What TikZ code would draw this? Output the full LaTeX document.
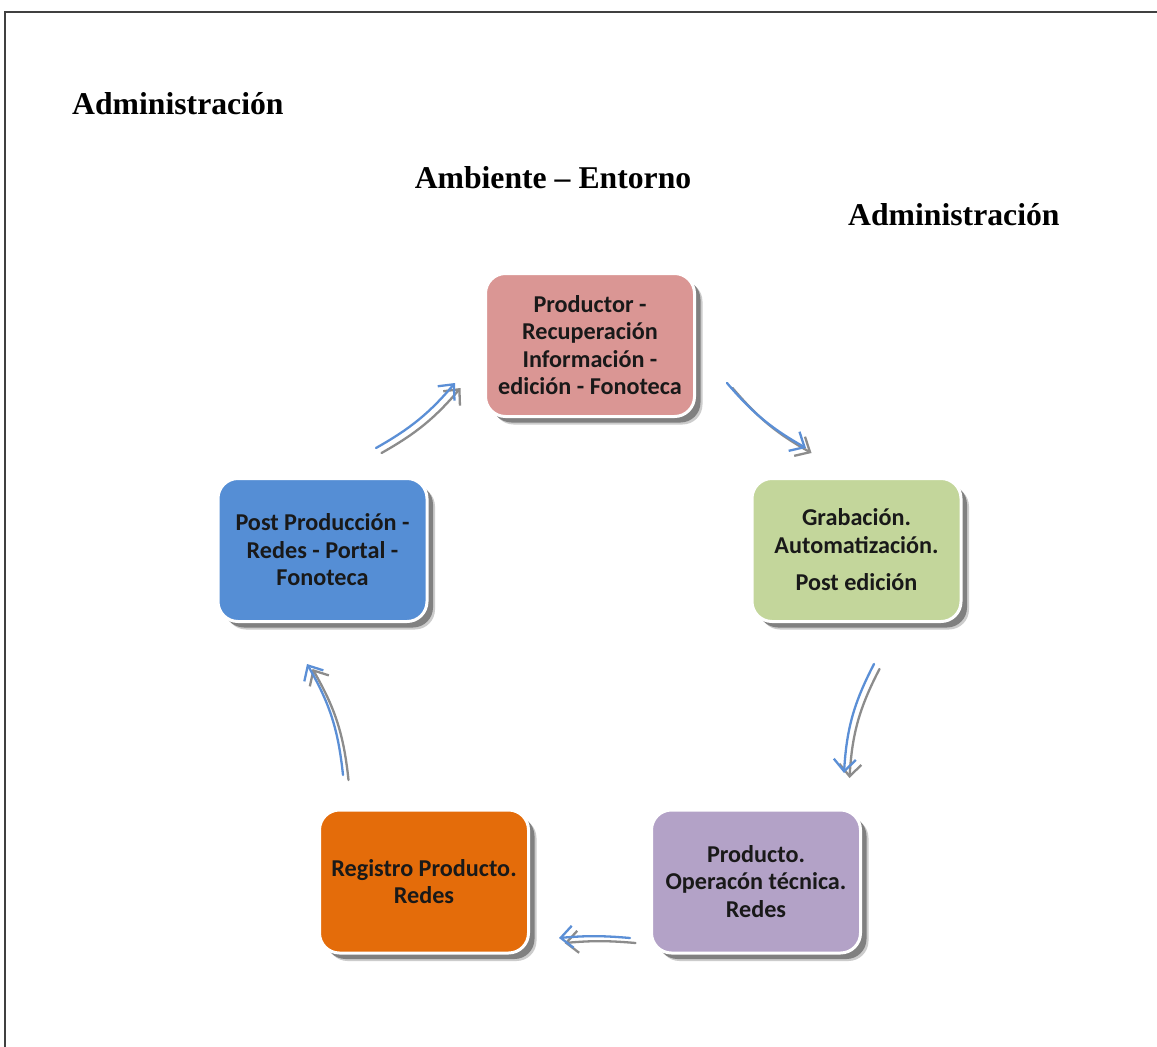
\documentclass[tikz,border=0pt]{standalone}
\usepackage{fontspec}
\setmainfont{Liberation Serif}
\newfontfamily\boxfont{Carlito}
\usetikzlibrary{arrows.meta,shadows}

\definecolor{pinkc}{HTML}{DA9694}
\definecolor{greenc}{HTML}{C3D69B}
\definecolor{purplec}{HTML}{B3A2C7}
\definecolor{orangec}{HTML}{E46C0A}
\definecolor{bluec}{HTML}{558ED5}
\definecolor{arrowblue}{HTML}{5B8FD6}
\definecolor{framegray}{HTML}{404040}

\tikzset{
  heading/.style={font=\bfseries\fontsize{31.7}{36}\selectfont, inner sep=0pt},
  card/.style={rounded corners=20pt, minimum width=209pt, minimum height=143pt,
    draw=white, line width=3pt, align=center, inner sep=2pt,
    font=\boxfont\bfseries\fontsize{24.2}{27.5}\selectfont, text=black!90,
    drop shadow={shadow xshift=8pt, shadow yshift=-8pt, fill=black!20, opacity=1},
    drop shadow={shadow xshift=6pt, shadow yshift=-6pt, fill=black!50, opacity=1}},
  flow/.style={line width=2.3pt, line cap=round,
    -{Straight Barb[length=12pt, width=22pt, line width=2.3pt]}},
  flowblue/.style={flow, draw=arrowblue},
  flowshade/.style={flow, draw=black!45,
    transform canvas={shift={(5.5pt,-5pt)}}}
}

\begin{document}
\begin{tikzpicture}[x=1pt,y=-1pt]
\useasboundingbox (0,0) rectangle (1157,1047);
\fill[white] (0,0) rectangle (1157,1047);

% page frame
\coordinate (fbl) at (5,1047);
\coordinate (ftl) at (5,12);
\coordinate (ftr) at (1157,12);
\draw[framegray, line width=2.5pt] (fbl) -- (ftl) -- (ftr);

% headings
\node[heading, anchor=west] (adm1) at (72,104) {Administración};
\node[heading] (amb) at (553,178) {Ambiente – Entorno};
\node[heading, anchor=west] (adm2) at (848,215) {Administración};

% cycle stages
\node[card, fill=pinkc] (prod) at (590,345)
  {Productor -\\Recuperación\\Información -\\edición - Fonoteca};
\node[card, fill=greenc] (grab) at (856.5,550)
  {Grabación.\\Automatización.\\[10pt]Post edición};
\node[card, fill=purplec] (oper) at (756,881.5)
  {Producto.\\Operacón técnica.\\Redes};
\node[card, fill=orangec] (regi) at (424,881.5)
  {Registro Producto.\\Redes};
\node[card, fill=bluec] (post) at (322.5,550)
  {Post Producción -\\Redes - Portal -\\Fonoteca};

% arrow end points around the cycle
\coordinate (a1s) at (376,448);
\coordinate (a1e) at (455,383);
\coordinate (a2s) at (727,383);
\coordinate (a2e) at (806,448);
\coordinate (a3s) at (874,664);
\coordinate (a3e) at (844,773);
\coordinate (a4s) at (630,938);
\coordinate (a4e) at (559,938);
\coordinate (a5s) at (343,775);
\coordinate (a5e) at (307,664);

% shaded copies
\draw[flowshade] (a1s) to[bend right=10] (a1e);
\draw[flowshade] (a2s) to[bend right=10] (a2e);
\draw[flowshade] (a3s) to[bend right=12] (a3e);
\draw[flowshade] (a4s) to[bend right=5] (a4e);
\draw[flowshade] (a5s) to[bend right=12] (a5e);
% arrows
\draw[flowblue] (a1s) to[bend right=10] (a1e);
\draw[flowblue] (a2s) to[bend right=10] (a2e);
\draw[flowblue] (a3s) to[bend right=12] (a3e);
\draw[flowblue] (a4s) to[bend right=5] (a4e);
\draw[flowblue] (a5s) to[bend right=12] (a5e);
\end{tikzpicture}
\end{document}
